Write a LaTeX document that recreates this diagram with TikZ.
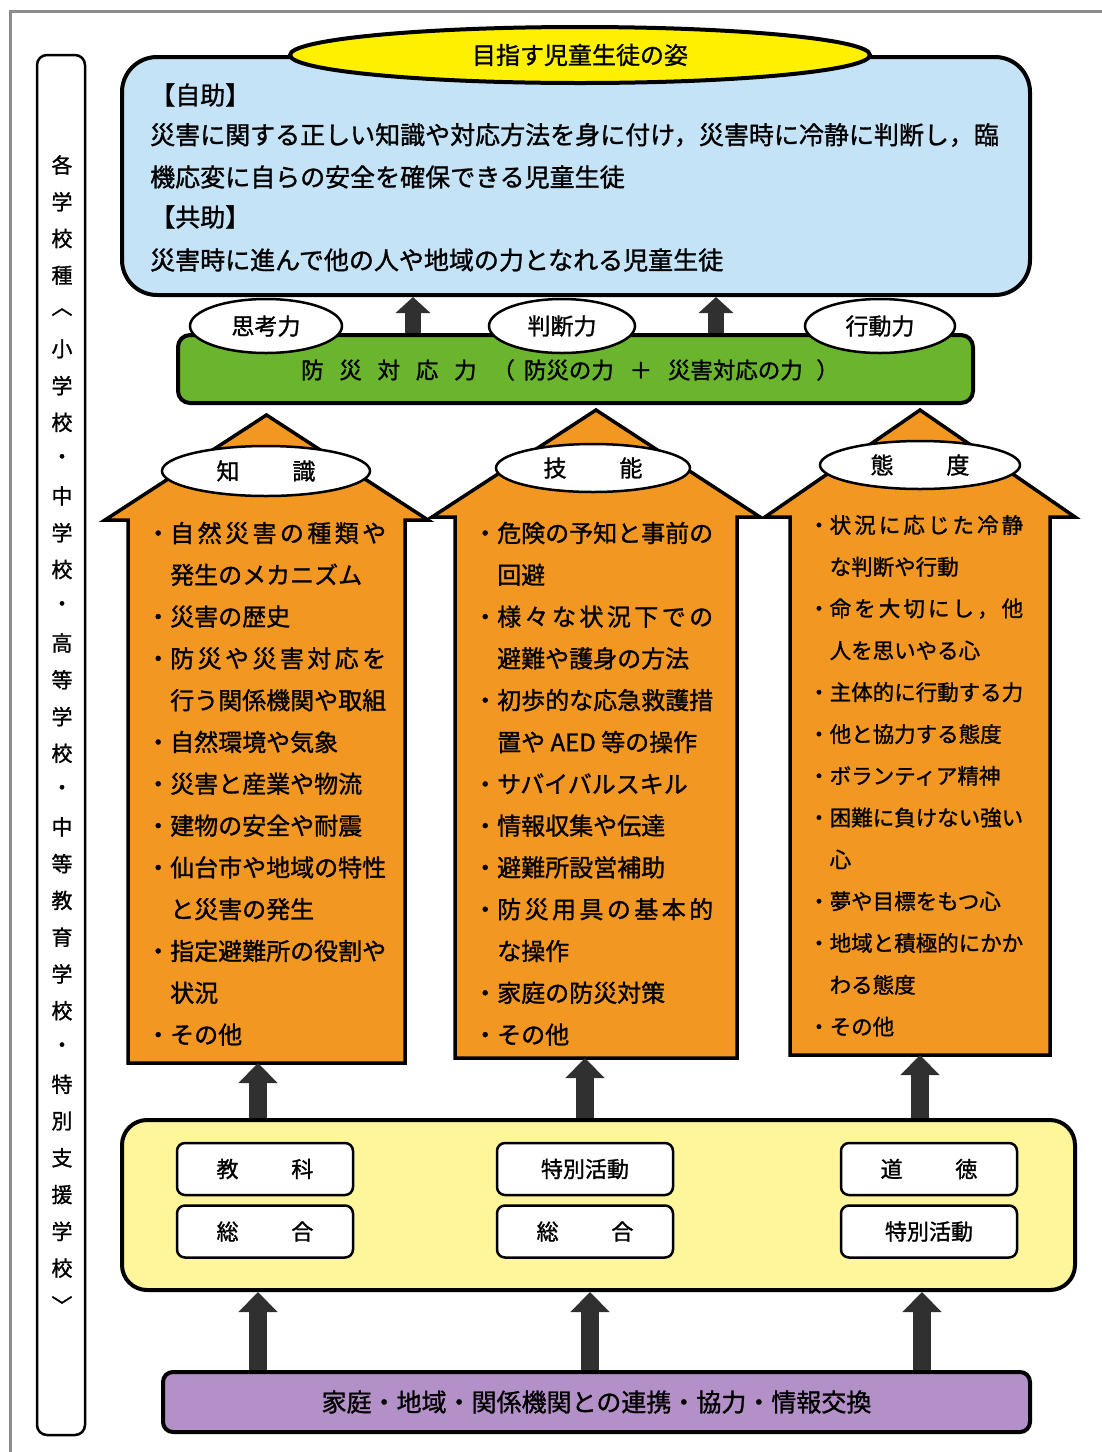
\documentclass[tikz,border=0pt]{standalone}
\usepackage{fontspec}
\setmainfont{Noto Sans CJK JP}[FakeBold=1.2]
\usetikzlibrary{shapes.geometric,arrows.meta}
\definecolor{skyb}{RGB}{197,227,246}
\definecolor{goalY}{RGB}{255,240,0}
\definecolor{barG}{RGB}{106,180,46}
\definecolor{arrO}{RGB}{242,152,34}
\definecolor{boxY}{RGB}{255,245,155}
\definecolor{boxP}{RGB}{180,144,200}
\definecolor{darkA}{RGB}{48,48,48}
\definecolor{frameG}{RGB}{140,140,140}
\newcommand\fsz[1]{\fontsize{#1}{#1}\selectfont}
\makeatletter
\def\js@a#1{#1\futurelet\js@next\js@b}
\def\js@b{\ifx\js@next\relax\expandafter\@gobble\else\hfil\expandafter\js@a\fi}
\newcommand\jspread[2]{\makebox[#1][s]{\js@a#2\relax}}
\makeatother
\tikzset{
  bigbox/.style={draw=black, line width=4pt, inner sep=0pt},
  lbl/.style={ellipse, draw=black, fill=white, line width=2.5pt, inner sep=0pt},
  wbox/.style={draw=black, line width=2.5pt, fill=white, rounded corners=8pt,
    minimum width=176pt, minimum height=52pt, inner sep=0pt, font=\fsz{22}},
  darrS/.style={line width=16pt, draw=darkA, -{Triangle[width=34pt,length=16pt]}},
  darrL/.style={line width=18pt, draw=darkA, -{Triangle[width=38pt,length=20pt]}},
  orangearrow/.style={draw=black, line width=3.5pt, fill=arrO, line join=miter},
  ghost/.style={inner sep=0pt, outer sep=0pt, draw=none},
  itemtext/.style={anchor=west, inner sep=0pt},
}
\begin{document}
\begin{tikzpicture}[x=1pt,y=-1pt]
\useasboundingbox (0,0) rectangle (1102,1452);
\fill[white] (0,0) rectangle (1102,1452);
% frame
\draw[frameG, line width=3pt] (10,1452) -- (10,11) -- (1102,11);

% top blue box
\node[bigbox, fill=skyb, rounded corners=35pt, minimum width=908pt, minimum height=238pt] (top) at (576,176) {};
\node[bigbox, ellipse, fill=goalY, minimum width=580pt, minimum height=56pt, font=\fsz{24}] (goal) at (580,55) {目指す児童生徒の姿};
\foreach \t/\yy [count=\i] in {【自助】/95, 災害に関する正しい知識や対応方法を身に付け，災害時に冷静に判断し，臨/135, 機応変に自らの安全を確保できる児童生徒/177, 【共助】/217, 災害時に進んで他の人や地域の力となれる児童生徒/260}
  \node[itemtext, font=\fsz{25}, name=b\i] at (150,\yy) {\t};

% green bar
\node[bigbox, fill=barG, rounded corners=12pt, minimum width=795pt, minimum height=68pt] (green) at (575.5,369) {};
\node[inner sep=0pt, font=\fsz{22.5}] (greentxt) at (570,370)
 {防\hspace{0.7em}災\hspace{0.7em}対\hspace{0.7em}応\hspace{0.7em}力\hspace{0.7em}（\hspace{0.4em}防災の力\hspace{0.7em}＋\hspace{0.7em}災害対応の力\hspace{0.6em}）};
\node[lbl, minimum width=152pt, minimum height=54pt, font=\fsz{23}] (shiko) at (266,326) {思考力};
\node[lbl, minimum width=146pt, minimum height=54pt, font=\fsz{23}] (handan) at (562,326) {判断力};
\node[lbl, minimum width=150pt, minimum height=54pt, font=\fsz{23}] (kodo) at (880,326) {行動力};
\coordinate (gx1) at (413,0);
\coordinate (gx2) at (716,0);
\draw[darrS] (green.north -| gx1) -- (top.south -| gx1);
\draw[darrS] (green.north -| gx2) -- (top.south -| gx2);

% orange arrows
\draw[orangearrow] (128,1063) -- (128,520) -- (105,520) -- (266.5,415) -- (428,520) -- (405,520) -- (405,1063) -- cycle;
\draw[orangearrow] (455,1058) -- (455,517) -- (432,517) -- (596,410) -- (760,517) -- (737,517) -- (737,1058) -- cycle;
\draw[orangearrow] (790,1055) -- (790,517) -- (765,517) -- (920,410) -- (1075,517) -- (1050,517) -- (1050,1055) -- cycle;
\node[ghost, minimum width=277pt, minimum height=543pt] (kbody) at (266.5,791.5) {};
\node[ghost, minimum width=282pt, minimum height=541pt] (gbody) at (596,787.5) {};
\node[ghost, minimum width=260pt, minimum height=538pt] (tbody) at (920,786) {};
\node[lbl, minimum width=208pt, minimum height=50pt, font=\fsz{23}] (chishiki) at (266,471) {知\hspace{2.3em}識};
\node[lbl, minimum width=194pt, minimum height=48pt, font=\fsz{23}] (gino) at (593,468) {技\hspace{2.3em}能};
\node[lbl, minimum width=200pt, minimum height=48pt, font=\fsz{23}] (taido) at (920,465) {態\hspace{2.3em}度};

\foreach \t [count=\i] in {
  ・\jspread{9em}{自然災害の種類や},
  　発生のメカニズム,
  ・災害の歴史,
  ・\jspread{9em}{防災や災害対応を},
  　行う関係機関や取組,
  ・自然環境や気象,
  ・災害と産業や物流,
  ・建物の安全や耐震,
  ・仙台市や地域の特性,
  　と災害の発生,
  ・指定避難所の役割や,
  　状況,
  ・その他}
  \node[itemtext, font=\fsz{24}, name=k\i] at (146,{533+(\i-1)*41.8}) {\t};

\foreach \t [count=\i] in {
  ・危険の予知と事前の,
  　回避,
  ・\jspread{9em}{様々な状況下での},
  　避難や護身の方法,
  ・初歩的な応急救護措,
  　置や AED 等の操作,
  ・サバイバルスキル,
  ・情報収集や伝達,
  ・避難所設営補助,
  ・\jspread{9em}{防災用具の基本的},
  　な操作,
  ・家庭の防災対策,
  ・その他}
  \node[itemtext, font=\fsz{24}, name=g\i] at (473,{533+(\i-1)*41.8}) {\t};

\foreach \t [count=\i] in {
  ・\jspread{9em}{状況に応じた冷静},
  　な判断や行動,
  ・\jspread{9em}{命を大切にし，他},
  　人を思いやる心,
  ・主体的に行動する力,
  ・他と協力する態度,
  ・ボランティア精神,
  ・困難に負けない強い,
  　心,
  ・夢や目標をもつ心,
  ・地域と積極的にかか,
  　わる態度,
  ・その他}
  \node[itemtext, font=\fsz{21.5}, name=t\i] at (808,{525+(\i-1)*41.8}) {\t};

% yellow box
\node[bigbox, fill=boxY, rounded corners=25pt, minimum width=953pt, minimum height=170pt] (ybox) at (598.5,1205) {};
\node[wbox] (kyoka) at (265,1169) {教\hspace{2.4em}科};
\node[wbox] (sogo1) at (265,1231.5) {総\hspace{2.4em}合};
\node[wbox] (tokkatsu1) at (585,1169) {特別活動};
\node[wbox] (sogo2) at (585,1231.5) {総\hspace{2.4em}合};
\node[wbox] (dotoku) at (929,1169) {道\hspace{2.4em}徳};
\node[wbox] (tokkatsu2) at (929,1231.5) {特別活動};
\coordinate (ax1) at (258,0);
\coordinate (ax2) at (585,0);
\coordinate (ax3) at (920,0);
\draw[darrL] (ybox.north -| ax1) -- (kbody.south -| ax1);
\draw[darrL] (ybox.north -| ax2) -- (gbody.south -| ax2);
\draw[darrL] (ybox.north -| ax3) -- (tbody.south -| ax3);

% purple bar
\node[bigbox, fill=boxP, rounded corners=10pt, minimum width=867pt, minimum height=60pt, font=\fsz{25}] (purple) at (596.5,1402) {家庭・地域・関係機関との連携・協力・情報交換};
\coordinate (px1) at (258,0);
\coordinate (px2) at (590,0);
\coordinate (px3) at (922,0);
\draw[darrL] (purple.north -| px1) -- (ybox.south -| px1);
\draw[darrL] (purple.north -| px2) -- (ybox.south -| px2);
\draw[darrL] (purple.north -| px3) -- (ybox.south -| px3);

% left vertical box
\node[draw=black, line width=2.5pt, fill=white, rounded corners=10pt, minimum width=48pt, minimum height=1380pt, inner sep=0pt] (side) at (61,745) {};
\foreach \c [count=\i] in {各,学,校,種,︿,小,学,校,・,中,学,校,・,高,等,学,校,・,中,等,教,育,学,校,・,特,別,支,援,学,校,﹀}
  \node[inner sep=0pt, font=\fsz{21}, name=v\i] at (62,{165+(\i-1)*36.77}) {\c};
\end{tikzpicture}
\end{document}
